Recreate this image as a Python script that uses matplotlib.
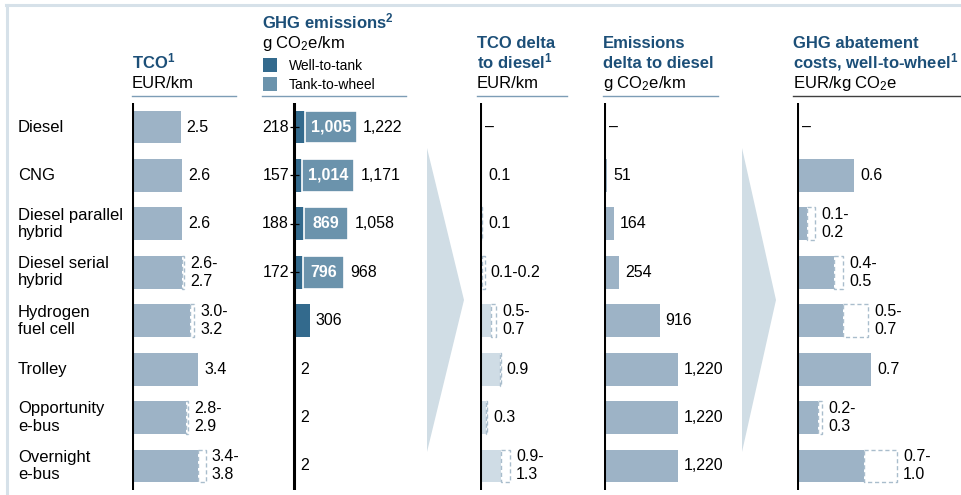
import matplotlib
matplotlib.use("Agg")
import matplotlib.pyplot as plt
from matplotlib.patches import Polygon, Rectangle
from matplotlib.lines import Line2D
import matplotlib.transforms as mtransforms

plt.rcParams['font.family'] = ['Liberation Sans', 'DejaVu Sans']
plt.rcParams['mathtext.fontset'] = 'custom'
plt.rcParams['mathtext.rm'] = 'Liberation Sans'
plt.rcParams['mathtext.it'] = 'Liberation Sans:italic'
plt.rcParams['mathtext.bf'] = 'Liberation Sans:bold'

# ---------------- data ----------------
categories = ["Diesel", "CNG", "Diesel parallel\nhybrid", "Diesel serial\nhybrid",
              "Hydrogen\nfuel cell", "Trolley", "Opportunity\ne-bus", "Overnight\ne-bus"]

tco_low = [2.5, 2.6, 2.6, 2.6, 3.0, 3.4, 2.8, 3.4]
tco_high = [2.5, 2.6, 2.6, 2.7, 3.2, 3.4, 2.9, 3.8]
tco_labels = ["2.5", "2.6", "2.6", "2.6-\n2.7", "3.0-\n3.2", "3.4", "2.8-\n2.9", "3.4-\n3.8"]

ghg_wtt = [218, 157, 188, 172, 306, 2, 2, 2]
ghg_ttw = [1005, 1014, 869, 796, 0, 0, 0, 0]
ghg_total = [1222, 1171, 1058, 968, 306, 2, 2, 2]

tcod_low = [0, 0.1, 0.05, 0.1, 0.5, 0.85, 0.25, 0.9]
tcod_high = [0, 0.1, 0.1, 0.2, 0.7, 0.9, 0.3, 1.3]
tcod_labels = ["–", "0.1", "0.1", "0.1-0.2", "0.5-\n0.7", "0.9", "0.3", "0.9-\n1.3"]

emis_delta = [0, 51, 164, 254, 916, 1220, 1220, 1220]
emis_labels = ["–", "51", "164", "254", "916", "1,220", "1,220", "1,220"]

abat_low = [0, 0.57, 0.10, 0.37, 0.46, 0.74, 0.21, 0.67]
abat_high = [0, 0.57, 0.18, 0.46, 0.71, 0.74, 0.25, 1.00]
abat_labels = ["–", "0.6", "0.1-\n0.2", "0.4-\n0.5", "0.5-\n0.7", "0.7", "0.2-\n0.3", "0.7-\n1.0"]

# ---------------- style ----------------
W, H = 962, 495
FS = 11.5
FS_ROW = 12
FS_HEAD = 12
BAR = "#9db3c6"
BAR_LIGHT = "#cfdce5"
WTT_C = "#336a8d"
TTW_C = "#6b93ac"
DASH_C = "#a9bdcc"
TITLE_C = "#1c4f78"
ULINE_C = "#7d9db6"
CHEV_C = "#d0dde5"
BH = 0.68

fig = plt.figure(figsize=(W / 100, H / 100), dpi=100)


def fx(x):
    return x / W


def fy(y):
    return 1 - y / H


# frame (top and left)
fig.add_artist(Line2D([fx(7), fx(7)], [fy(5), 0], color="#d6e1e9", lw=2.2))
fig.add_artist(Line2D([fx(6), 1], [fy(5), fy(5)], color="#d6e1e9", lw=2.2))

# chevrons
for xl, xt in [(427, 464), (742, 776)]:
    fig.patches.append(Polygon([(fx(xl), fy(148)), (fx(xt), fy(300)), (fx(xl), fy(452))],
                               closed=True, transform=fig.transFigure, facecolor=CHEV_C,
                               edgecolor="none", zorder=0))

Y_TOP, Y_BOT = 102.8, 490.2


def panel(x0, ppu, width=130, neg=0):
    ax = fig.add_axes([fx(x0 - neg), (H - Y_BOT) / H, (width + neg) / W, (Y_BOT - Y_TOP) / H])
    ax.set_xlim(-neg / ppu, width / ppu)
    ax.set_ylim(7.5, -0.5)
    for s in ["top", "right", "bottom", "left"]:
        ax.spines[s].set_visible(False)
    ax.axvline(0, color="black", lw=2.2, zorder=5)
    ax.set_xticks([])
    ax.set_yticks([])
    ax.patch.set_alpha(0)
    return ax


ys = list(range(len(categories)))


def range_bars(ax, low, high, labels, color, ppu):
    for y, lo, hi, lab in zip(ys, low, high, labels):
        if hi <= 0:
            ax.annotate(lab, xy=(0, y), xytext=(5, 0), textcoords="offset pixels",
                        va="center", ha="left", fontsize=FS, annotation_clip=False)
            continue
        ax.barh(y, lo, height=BH, color=color, edgecolor="none", zorder=2)
        if hi > lo:
            ax.barh(y, hi - lo, left=lo, height=BH, fill=False, edgecolor=DASH_C,
                    linestyle=(0, (3, 2)), lw=1.0, zorder=3)
        ax.annotate(lab, xy=(hi, y), xytext=(6, 0), textcoords="offset pixels",
                    va="center", ha="left", fontsize=FS, linespacing=1.25,
                    annotation_clip=False)


# ---- TCO panel
ax1 = panel(132, 19.4, 110)
range_bars(ax1, tco_low, tco_high, tco_labels, BAR, 19.4)

# row labels
tr = mtransforms.blended_transform_factory(fig.transFigure, ax1.transData)
for y, c in zip(ys, categories):
    fig.text(fx(18), y, c, transform=tr, va="center", ha="left", fontsize=FS_ROW,
             linespacing=1.2)

# ---- GHG panel
ppu_g = 0.0515
ax2 = panel(294, ppu_g, 130, neg=45)
for y, w, t, tot in zip(ys, ghg_wtt, ghg_ttw, ghg_total):
    ax2.barh(y, w, height=BH, color=WTT_C, edgecolor="none", zorder=2)
    if t > 0:
        ax2.barh(y, t, left=w, height=BH, color=TTW_C, edgecolor="white", lw=1.2, zorder=2)
        ax2.text(w + t / 2, y, f"{t:,}", color="white", fontweight="bold",
                 ha="center", va="center", fontsize=FS, zorder=4)
        ax2.annotate(f"{tot:,}", xy=(tot, y), xytext=(6, 0), textcoords="offset pixels",
                     va="center", ha="left", fontsize=FS, annotation_clip=False)
        ax2.annotate(f"{w:,}", xy=(0, y), xytext=(-5, 0), textcoords="offset pixels",
                     va="center", ha="right", fontsize=FS, annotation_clip=False)
        ax2.plot([-4.5 / ppu_g, 4.5 / ppu_g], [y, y], color="black", lw=0.9, zorder=6,
                 solid_capstyle="butt")
    else:
        ax2.annotate(f"{w:,}", xy=(w, y), xytext=(6, 0), textcoords="offset pixels",
                     va="center", ha="left", fontsize=FS, annotation_clip=False)

# ---- TCO delta panel
ax3 = panel(480, 23.0, 100)
range_bars(ax3, tcod_low, tcod_high, tcod_labels, BAR_LIGHT, 23.0)

# ---- Emissions delta panel
ax4 = panel(604, 0.0607, 120)
for y, v, lab in zip(ys, emis_delta, emis_labels):
    if v > 0:
        ax4.barh(y, v, height=BH, color=BAR, edgecolor="none", zorder=2)
        ax4.annotate(lab, xy=(v, y), xytext=(6, 0), textcoords="offset pixels",
                     va="center", ha="left", fontsize=FS, annotation_clip=False)
    else:
        ax4.annotate(lab, xy=(0, y), xytext=(5, 0), textcoords="offset pixels",
                     va="center", ha="left", fontsize=FS, annotation_clip=False)

# ---- Abatement panel
ax5 = panel(797, 100.0, 160)
range_bars(ax5, abat_low, abat_high, abat_labels, BAR, 100.0)

# ---------------- headers ----------------
def htext(x, y, s, bold=False, size=FS_HEAD, color=None):
    # y is the visual centre of capital letters; place by baseline
    fig.text(fx(x), fy(y + 0.36 * size * 100 / 72), s, ha="left", va="baseline",
             fontsize=size, fontweight="bold" if bold else "normal",
             color=(TITLE_C if bold else "black") if color is None else color)


htext(132, 62, r"TCO$^{\mathbf{1}}$", bold=True)
htext(132, 82, "EUR/km")

htext(262, 22, r"GHG emissions$^{\mathbf{2}}$", bold=True)
htext(262, 42, r"g CO$_2$e/km")
fig.patches.append(Rectangle((fx(263), fy(72)), 14 / W, 14 / H, transform=fig.transFigure,
                             facecolor=WTT_C, edgecolor="none"))
fig.patches.append(Rectangle((fx(263), fy(91)), 14 / W, 14 / H, transform=fig.transFigure,
                             facecolor=TTW_C, edgecolor="none"))
htext(289, 65, "Well-to-tank", size=10)
htext(289, 84, "Tank-to-wheel", size=10)

htext(477, 42, "TCO delta", bold=True)
htext(477, 62, r"to diesel$^{\mathbf{1}}$", bold=True)
htext(477, 82, "EUR/km")

htext(603, 42, "Emissions", bold=True)
htext(603, 62, "delta to diesel", bold=True)
htext(603, 82, r"g CO$_2$e/km")

htext(793, 42, "GHG abatement", bold=True)
htext(793, 62, r"costs, well-to-wheel$^{\mathbf{1}}$", bold=True)
htext(793, 82, r"EUR/kg CO$_2$e")

for x0, x1, c in [(132, 236, ULINE_C), (262, 406, ULINE_C), (477, 567, ULINE_C),
                  (603, 718, ULINE_C), (793, 962, "#404040")]:
    fig.add_artist(Line2D([fx(x0), fx(x1)], [fy(96), fy(96)], color=c, lw=1.0))

fig.savefig("out.png", dpi=100)
